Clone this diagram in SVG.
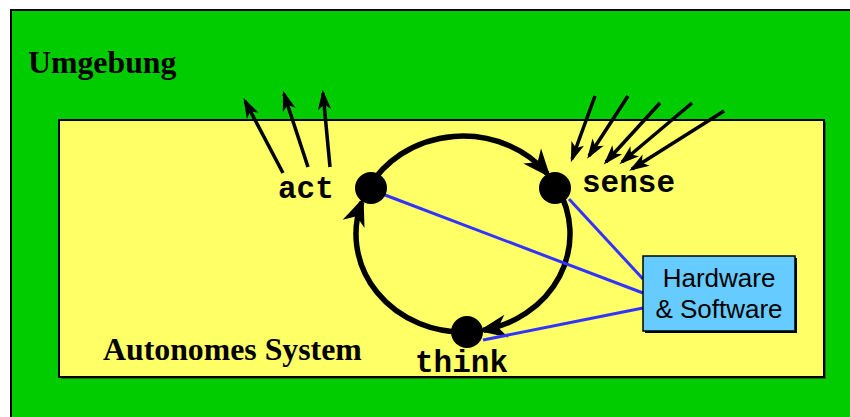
<svg xmlns="http://www.w3.org/2000/svg" width="850" height="417" viewBox="0 0 850 417">
<style>
.serif{font-family:"Liberation Serif","Times New Roman",serif;font-weight:bold;font-size:31.8px;fill:#000}
.mono{font-family:"Liberation Mono","Courier New",monospace;font-weight:bold;font-size:31px;fill:#000}
.sans{font-family:"Liberation Sans",Arial,sans-serif;font-size:26px;fill:#000}
.ring{fill:none;stroke:#000;stroke-width:5.5}
.ray{fill:none;stroke:#000;stroke-width:3.5}
.hw{fill:none;stroke:#3333FF;stroke-width:3}
</style>
<defs>
<marker id="bigHead" markerUnits="userSpaceOnUse" orient="auto" markerWidth="40" markerHeight="40" refX="-3" refY="0" viewBox="-20 -10 24 20" style="overflow:visible">
<path d="M0,0 L-17,-7 L-12,0 L-17,7 Z" fill="#000"/>
</marker>
<marker id="smallHead" markerUnits="userSpaceOnUse" orient="auto" markerWidth="30" markerHeight="30" refX="-2" refY="0" viewBox="-15 -8 18 16" style="overflow:visible">
<path d="M0,0 L-12,-4 L-9,0 L-12,4 Z" fill="#000"/>
</marker>
</defs>
<rect x="0" y="0" width="850" height="417" fill="#fff"/>
<g id="umgebung">
<rect x="11" y="10" width="845" height="412" fill="#00CC00" stroke="#000" stroke-width="2"/>
<text class="serif" x="28" y="73">Umgebung</text>
</g>
<g id="system">
<rect x="61" y="122" width="765" height="257" fill="#333300" opacity="0.6"/>
<rect x="59" y="120" width="765" height="257" fill="#FFFF66" stroke="#000" stroke-width="2"/>
<text class="serif" x="103" y="360">Autonomes System</text>
</g>
<g id="connectors">
<path class="ring" d="M368.5,188 A107,98 0 0 1 547.3,173.7" marker-end="url(#bigHead)"/>
<path class="ring" d="M557.5,188 A107,98 0 0 1 483.4,330.2" marker-end="url(#bigHead)"/>
<path class="ring" d="M466.7,331.9 A107,98 0 0 1 361.8,202.1" marker-end="url(#bigHead)"/>
<line class="ray" x1="283" y1="173" x2="245" y2="101" marker-end="url(#smallHead)"/>
<line class="ray" x1="308" y1="167" x2="284" y2="94" marker-end="url(#smallHead)"/>
<line class="ray" x1="330" y1="167" x2="323" y2="93" marker-end="url(#smallHead)"/>
<line class="ray" x1="595" y1="96" x2="572" y2="159" marker-end="url(#smallHead)"/>
<line class="ray" x1="628" y1="96" x2="589" y2="156" marker-end="url(#smallHead)"/>
<line class="ray" x1="660" y1="103" x2="606" y2="162" marker-end="url(#smallHead)"/>
<line class="ray" x1="692" y1="103" x2="622" y2="162" marker-end="url(#smallHead)"/>
<line class="ray" x1="724" y1="111" x2="632" y2="169" marker-end="url(#smallHead)"/>
<line class="hw" x1="385" y1="195" x2="643" y2="293"/>
<line class="hw" x1="569" y1="199" x2="643" y2="279"/>
<line class="hw" x1="483" y1="340" x2="643" y2="308"/>
</g>
<g id="act">
<circle cx="371" cy="188" r="16" fill="#000"/>
<text class="mono" x="278" y="198">act</text>
</g>
<g id="sense">
<circle cx="555" cy="188" r="16" fill="#000"/>
<text class="mono" x="582" y="192">sense</text>
</g>
<g id="think">
<circle cx="467" cy="332" r="16" fill="#000"/>
<text class="mono" x="415" y="372">think</text>
</g>
<g id="hardware">
<rect x="645" y="258" width="152" height="75" fill="#000"/>
<rect x="643" y="256" width="152" height="75" fill="#66CCFF" stroke="#000" stroke-width="1.5"/>
<text class="sans" x="719" y="287" text-anchor="middle">Hardware</text>
<text class="sans" x="719" y="318" text-anchor="middle">&amp; Software</text>
</g>
</svg>
